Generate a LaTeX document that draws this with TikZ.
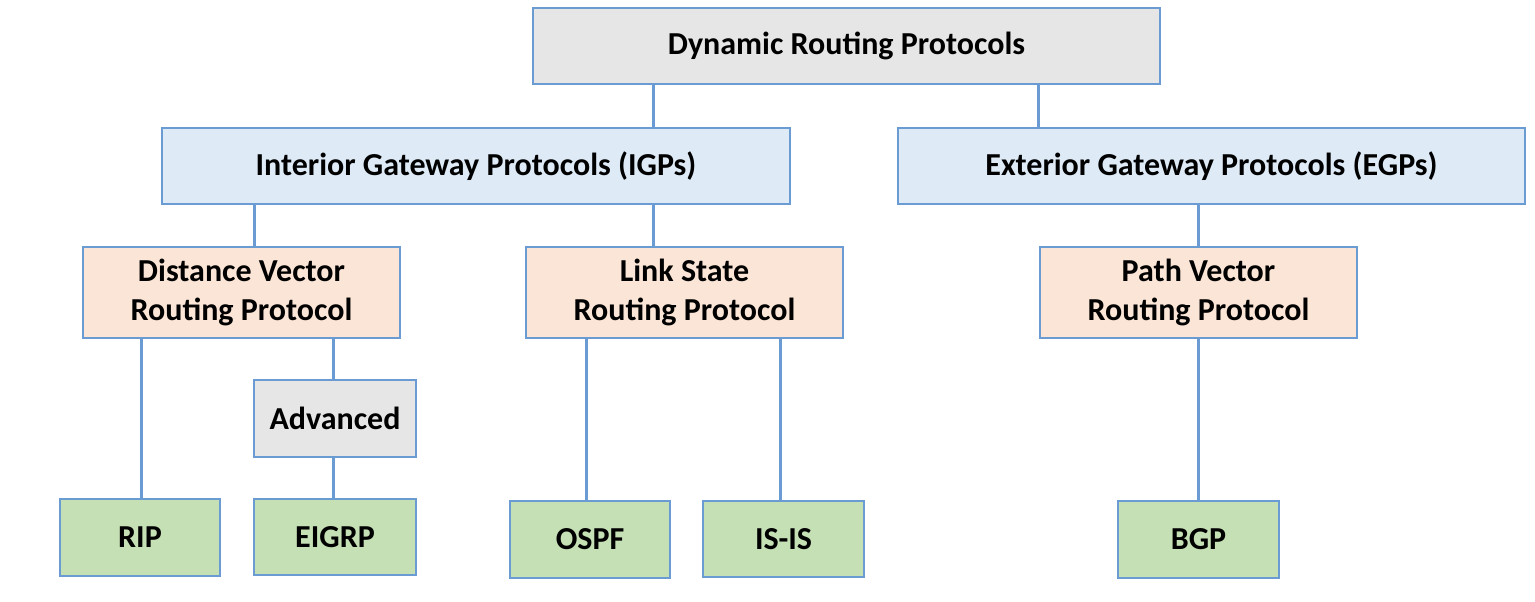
\documentclass[tikz,border=0pt]{standalone}
\usepackage{fontspec}
\setmainfont{Carlito}
\definecolor{bord}{HTML}{6A9BD3}
\definecolor{cgray}{HTML}{E7E6E6}
\definecolor{cblue}{HTML}{DEEBF7}
\definecolor{cpeach}{HTML}{FBE5D6}
\definecolor{cgreen}{HTML}{C5E0B4}
\tikzset{
  box/.style={draw=bord, line width=1.6pt, inner sep=0pt, outer sep=0pt, align=center,
    font=\fontsize{32}{39}\selectfont\bfseries, text=black},
  conn/.style={draw=bord, line width=3pt},
}
\begin{document}
\begin{tikzpicture}[x=1pt,y=-1pt]
\useasboundingbox (0,0) rectangle (1535,602);
\fill[white] (0,0) rectangle (1535,602);
\node[box, fill=cgray, minimum width=627pt, minimum height=76pt] (top) at (846.5,46) {Dynamic Routing Protocols};
\node[box, fill=cblue, minimum width=628pt, minimum height=76pt] (igp) at (476,166) {Interior Gateway Protocols (IGPs)};
\node[box, fill=cblue, minimum width=627pt, minimum height=76pt] (egp) at (1211.5,166) {Exterior Gateway Protocols (EGPs)};
\node[box, fill=cpeach, minimum width=317pt, minimum height=91pt] (dv) at (241.5,292.5) {Distance Vector\\Routing Protocol};
\node[box, fill=cpeach, minimum width=317pt, minimum height=91pt] (ls) at (684.5,292.5) {Link State\\Routing Protocol};
\node[box, fill=cpeach, minimum width=317pt, minimum height=91pt] (pv) at (1198.5,292.5) {Path Vector\\Routing Protocol};
\node[box, fill=cgray, minimum width=162pt, minimum height=77pt] (adv) at (335,418.5) {Advanced};
\node[box, fill=cgreen, minimum width=160pt, minimum height=77pt] (rip) at (140,537.5) {RIP};
\node[box, fill=cgreen, minimum width=162pt, minimum height=76pt] (eigrp) at (335,537) {EIGRP};
\node[box, fill=cgreen, minimum width=160pt, minimum height=77pt] (ospf) at (590,539.5) {OSPF};
\node[box, fill=cgreen, minimum width=161pt, minimum height=76pt] (isis) at (783.5,539) {IS-IS};
\node[box, fill=cgreen, minimum width=161pt, minimum height=77pt] (bgp) at (1198.5,539.5) {BGP};
\draw[conn] (top.south -| 653,0) -- (igp.north -| 653,0);
\draw[conn] (top.south -| 1038,0) -- (egp.north -| 1038,0);
\draw[conn] (igp.south -| 254,0) -- (dv.north -| 254,0);
\draw[conn] (igp.south -| 653,0) -- (ls.north -| 653,0);
\draw[conn] (egp.south -| 1198,0) -- (pv.north -| 1198,0);
\draw[conn] (dv.south -| 141,0) -- (rip.north -| 141,0);
\draw[conn] (dv.south -| 333,0) -- (adv.north -| 333,0);
\draw[conn] (adv.south -| 333,0) -- (eigrp.north -| 333,0);
\draw[conn] (ls.south -| 586,0) -- (ospf.north -| 586,0);
\draw[conn] (ls.south -| 780,0) -- (isis.north -| 780,0);
\draw[conn] (pv.south -| 1198,0) -- (bgp.north -| 1198,0);
\end{tikzpicture}
\end{document}
